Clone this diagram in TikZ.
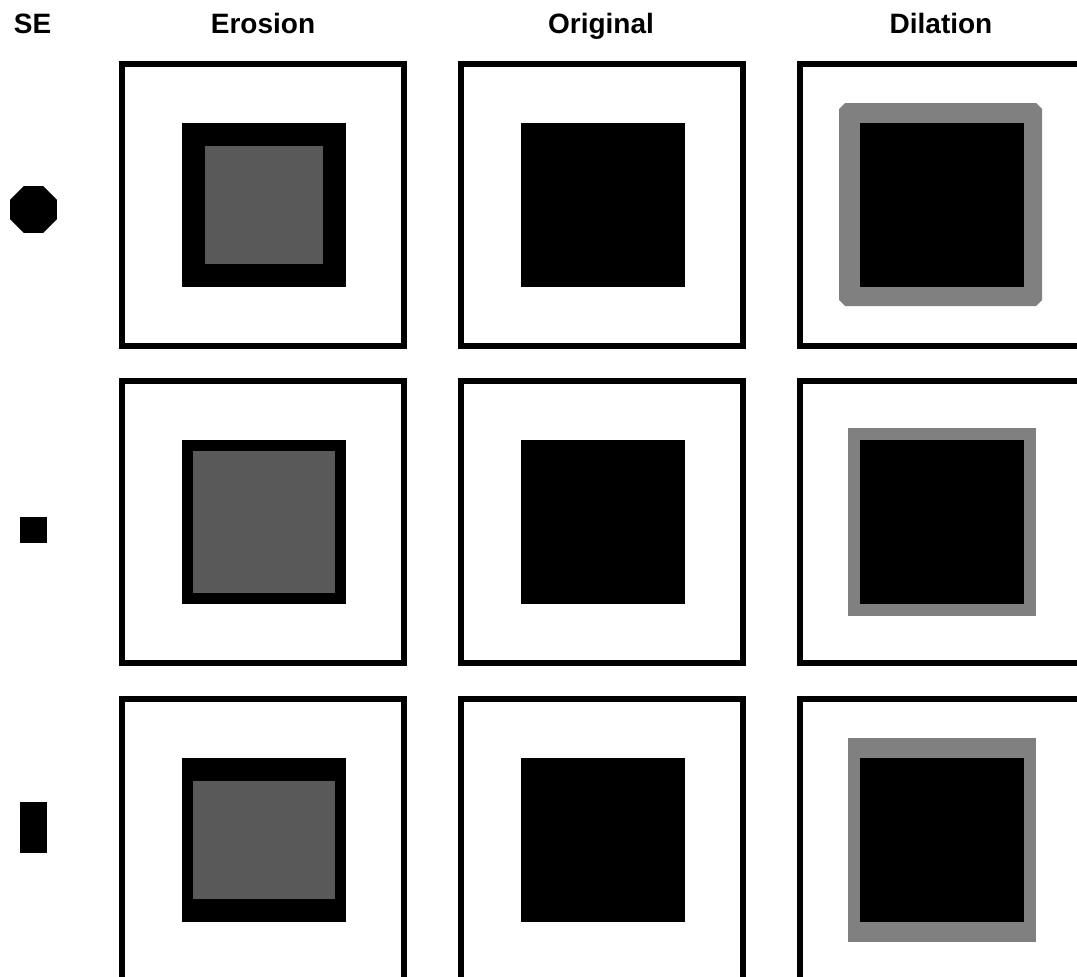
\documentclass[tikz,border=0pt]{standalone}
\usepackage{fontspec}
\setmainfont{Liberation Sans}
\usepackage{tikz}
\definecolor{eroGray}{HTML}{595959}
\definecolor{dilGray}{HTML}{808080}
\tikzset{
  frame/.style={draw=black, line width=6pt},
  head/.style={anchor=base, font=\bfseries\fontsize{28}{32}\selectfont},
}

\begin{document}
\begin{tikzpicture}[x=1pt, y=-1pt]
  \clip (0,0) rectangle (1077,977);
  \fill[white] (0,0) rectangle (1077,977);
  % column headings
  \node[head] (hSE)  at (32.5,33) {SE};
  \node[head] (hEro) at (263,33) {Erosion};
  \node[head] (hOri) at (601,33) {Original};
  \node[head] (hDil) at (941,33) {Dilation};
  % structuring elements
  \fill ({33.5+25.4*cos(22.5)},{209.5+25.4*sin(22.5)})
    \foreach \k in {1,...,7} { -- ({33.5+25.4*cos(22.5+45*\k)},{209.5+25.4*sin(22.5+45*\k)}) } -- cycle;
  \fill (20,517) rectangle (47,543);
  \fill (20,802) rectangle (47,853);
  % frames and squares
  \foreach \cy/\eh/\ev/\dh/\dv in {205/23/23/20/20, 522/11/11/12/12, 840/11/23/12/20} {
    \foreach \cx in {263,602,941} {
      \draw[frame] ({\cx-141},{\cy-141}) rectangle ({\cx+141},{\cy+141});
    }
    % dilation result
    \ifnum\cy=205
      \fill[dilGray] (839,109) -- (845,103) -- (1036,103) -- (1042,109) -- (1042,300)
        -- (1036,306) -- (845,306) -- (839,300) -- cycle;
    \else
      \fill[dilGray] ({942-82-\dh},{\cy-82-\dv}) rectangle ({942+82+\dh},{\cy+82+\dv});
    \fi
    \foreach \cx in {264,603,942} {
      \fill ({\cx-82},{\cy-82}) rectangle ({\cx+82},{\cy+82});
    }
    % erosion result
    \fill[eroGray] ({264-82+\eh},{\cy-82+\ev}) rectangle ({264+82-\eh},{\cy+82-\ev});
  }
\end{tikzpicture}
\end{document}
